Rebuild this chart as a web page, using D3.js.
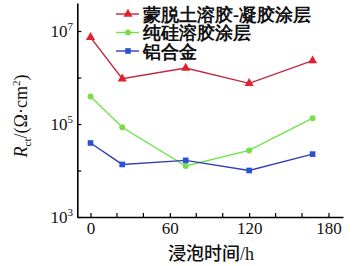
<!DOCTYPE html>
<head>
  <meta charset="utf-8">
  <script src="https://d3js.org/d3.v7.min.js"></script>
  <style>
    body { margin: 0; background: #fff; }
    text { font-family: "Liberation Serif", serif; }
  </style>
</head>
<body>
  <script type="text/javascript">
    var w = 352;
    var h = 266;

    // data
    var times = [0, 24, 72, 120, 168];
    var seriesNames = ["蒙脱土溶胶-凝胶涂层", "纯硅溶胶涂层", "铝合金"];
    var montSol = [7.3e6, 9.4e5, 1.6e6, 7.5e5, 2.3e6];
    var silicaSol = [3.9e5, 8.5e4, 1.25e4, 2.7e4, 1.33e5];
    var aluminium = [3.9e4, 1.35e4, 1.65e4, 1.0e4, 2.25e4];
    var xTicks = [0, 60, 120, 180];
    var xMinor = [20, 40, 80, 100, 140, 160];
    var yTicks = [1e3, 1e4, 1e5, 1e6, 1e7];
    var yLabels = [3, 5, 7];

    var series = [
      {name: seriesNames[0], values: montSol, line: "#c0283c", fill: "#e3202c", shape: d3.symbolTriangle, size: 36},
      {name: seriesNames[1], values: silicaSol, line: "#6fe44a", fill: "#7cdc48", shape: d3.symbolCircle, size: 28},
      {name: seriesNames[2], values: aluminium, line: "#3440b0", fill: "#2a4fd8", shape: d3.symbolSquare, size: 32}
    ];

    var svg = d3.select("body")
      .append("svg")
      .attr("width", w)
      .attr("height", h);

    var xScale = d3.scaleLinear()
                   .domain([-10, 191])
                   .range([77.3, 343]);

    var yScale = d3.scaleLog()
                   .domain([1e3, 4e7])
                   .range([217, 3]);

    // axes, ticks pointing inward
    var xAxis = svg.append("g")
      .attr("transform", "translate(0,217)")
      .call(d3.axisBottom(xScale).tickValues(xTicks).tickSize(-4).tickSizeOuter(0).tickPadding(5)
        .tickFormat(d3.format("d")));
    xAxis.selectAll(".minor")
      .data(xMinor)
      .enter()
      .append("line")
      .attr("x1", function(d){ return xScale(d); })
      .attr("x2", function(d){ return xScale(d); })
      .attr("y1", 0)
      .attr("y2", -4)
      .attr("stroke", "#000")
      .attr("stroke-width", 1.2);

    var yAxis = svg.append("g")
      .attr("transform", "translate(77.3,0)")
      .call(d3.axisLeft(yScale).tickValues(yTicks).tickSize(-4).tickSizeOuter(0).tickFormat(""));

    [xAxis, yAxis].forEach(function(g){
      g.select(".domain").attr("stroke-width", 1.6);
      g.selectAll(".tick line").attr("stroke-width", 1.2);
      g.selectAll(".tick text").attr("font-size", 17).attr("fill", "#111")
        .attr("font-family", "Liberation Serif");
    });

    // y tick labels with superscript exponents
    var yl = svg.selectAll(".ylab")
      .data(yLabels)
      .enter()
      .append("text")
      .attr("x", 73)
      .attr("y", function(d){ return yScale(Math.pow(10, d)) + 6; })
      .attr("text-anchor", "end")
      .attr("font-size", 17)
      .attr("fill", "#111");
    yl.append("tspan").text("10");
    yl.append("tspan").attr("font-size", 11).attr("dy", -7).text(function(d){ return d; });

    // axis titles
    var yt = svg.append("text")
      .attr("transform", "translate(27,116) rotate(-90)")
      .attr("text-anchor", "middle")
      .attr("font-size", 18)
      .attr("fill", "#111");
    yt.append("tspan").attr("font-style", "italic").text("R");
    yt.append("tspan").attr("font-size", 11).attr("dy", 4).text("ct");
    yt.append("tspan").attr("dy", -4).text("/(Ω·cm");
    yt.append("tspan").attr("font-size", 11).attr("dy", -7).text("2");
    yt.append("tspan").attr("dy", 7).text(")");

    var xt = svg.append("text")
      .attr("x", 211)
      .attr("y", 260)
      .attr("text-anchor", "middle")
      .attr("font-size", 18)
      .attr("fill", "#111");
    xt.append("tspan").attr("font-family", "Noto Sans CJK SC").attr("font-weight", 500).text("浸泡时间");
    xt.append("tspan").text("/h");

    // series
    var line = d3.line()
      .x(function(d, i){ return xScale(times[i]); })
      .y(function(d){ return yScale(d); });

    var groups = svg.selectAll(".series")
      .data(series)
      .enter()
      .append("g");

    groups.append("path")
      .attr("d", function(s){ return line(s.values); })
      .attr("fill", "none")
      .attr("stroke", function(s){ return s.line; })
      .attr("stroke-width", 1.4);

    groups.each(function(s){
      d3.select(this).selectAll("path.pt")
        .data(s.values)
        .enter()
        .append("path")
        .attr("class", "pt")
        .attr("d", d3.symbol().type(s.shape).size(s.size))
        .attr("transform", function(d, i){
          return "translate(" + xScale(times[i]) + "," + yScale(d) + ")";
        })
        .attr("fill", s.fill);
    });

    // legend
    var legend = svg.selectAll(".legend")
      .data(series)
      .enter()
      .append("g")
      .attr("transform", function(d, i){ return "translate(116," + (14 + i * 18.5) + ")"; });

    legend.append("line")
      .attr("x1", 0).attr("x2", 23)
      .attr("stroke", function(s){ return s.line; })
      .attr("stroke-width", 1.4);
    legend.append("path")
      .attr("d", function(s){ return d3.symbol().type(s.shape).size(s.size)(); })
      .attr("transform", "translate(12,0)")
      .attr("fill", function(s){ return s.fill; });
    legend.append("text")
      .attr("x", 27)
      .attr("y", 6.5)
      .attr("font-family", "Noto Sans CJK SC")
      .attr("font-weight", 600)
      .attr("font-size", 18)
      .attr("fill", "#111")
      .text(function(s){ return s.name; });
  </script>
</body>
